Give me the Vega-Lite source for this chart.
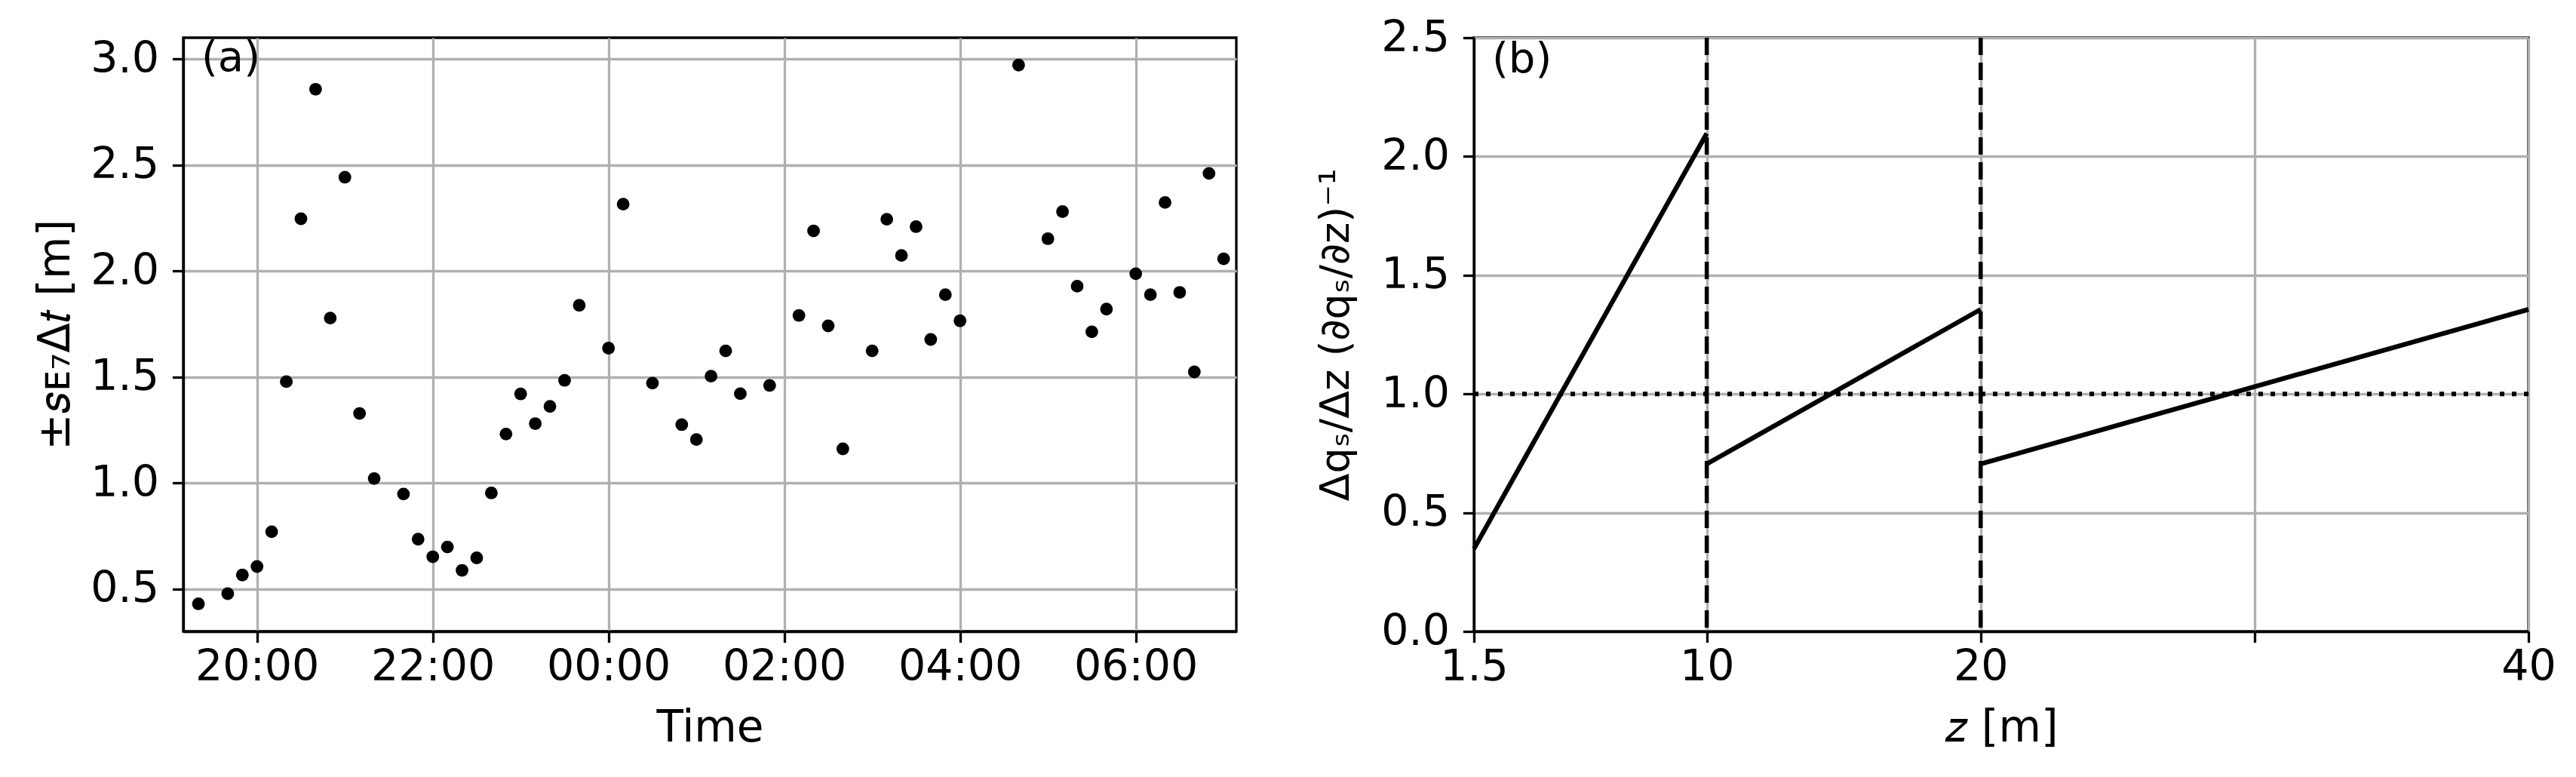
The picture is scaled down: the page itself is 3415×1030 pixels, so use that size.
{
  "$schema": "https://vega.github.io/schema/vega-lite/v6.json",
  "background": "white",
  "padding": {"left": 44, "top": 19, "right": 20, "bottom": 10},
  "bounds": "flush",
  "spacing": 315,
  "config": {
    "font": "DejaVu Sans",
    "view": {"stroke": "black", "strokeWidth": 3.3},
    "axis": {
      "domainColor": "black", "domainWidth": 3.3,
      "tickColor": "black", "tickWidth": 3.3, "tickSize": 14.6,
      "labelFont": "DejaVu Sans", "labelFontSize": 57, "labelColor": "black", "labelPadding": 18,
      "labelOverlap": false, "labelFlush": false,
      "titleFont": "DejaVu Sans", "titleFontSize": 58, "titleFontWeight": "normal", "titleColor": "black",
      "titleLimit": 2000,
      "gridColor": "#b0b0b0", "gridWidth": 3.3, "gridOpacity": 1
    },
    "axisX": {"labelPadding": 5, "titlePadding": 24}
  },
  "hconcat": [
    {
      "width": 1396,
      "height": 787,
      "layer": [
        {
          "data": {"values": [
            {"t": "2020-01-01T19:20:00", "s": 0.430},
            {"t": "2020-01-01T19:40:00", "s": 0.478},
            {"t": "2020-01-01T19:50:00", "s": 0.566},
            {"t": "2020-01-01T20:00:00", "s": 0.606},
            {"t": "2020-01-01T20:10:00", "s": 0.770},
            {"t": "2020-01-01T20:20:00", "s": 1.478},
            {"t": "2020-01-01T20:30:00", "s": 2.246},
            {"t": "2020-01-01T20:40:00", "s": 2.857},
            {"t": "2020-01-01T20:50:00", "s": 1.778},
            {"t": "2020-01-01T21:00:00", "s": 2.442},
            {"t": "2020-01-01T21:10:00", "s": 1.328},
            {"t": "2020-01-01T21:20:00", "s": 1.021},
            {"t": "2020-01-01T21:40:00", "s": 0.948},
            {"t": "2020-01-01T21:50:00", "s": 0.735},
            {"t": "2020-01-01T22:00:00", "s": 0.652},
            {"t": "2020-01-01T22:10:00", "s": 0.698},
            {"t": "2020-01-01T22:20:00", "s": 0.588},
            {"t": "2020-01-01T22:30:00", "s": 0.647},
            {"t": "2020-01-01T22:40:00", "s": 0.953},
            {"t": "2020-01-01T22:50:00", "s": 1.231},
            {"t": "2020-01-01T23:00:00", "s": 1.420},
            {"t": "2020-01-01T23:10:00", "s": 1.280},
            {"t": "2020-01-01T23:20:00", "s": 1.361},
            {"t": "2020-01-01T23:30:00", "s": 1.484},
            {"t": "2020-01-01T23:40:00", "s": 1.838},
            {"t": "2020-01-02T00:00:00", "s": 1.636},
            {"t": "2020-01-02T00:10:00", "s": 2.315},
            {"t": "2020-01-02T00:30:00", "s": 1.471},
            {"t": "2020-01-02T00:50:00", "s": 1.275},
            {"t": "2020-01-02T01:00:00", "s": 1.205},
            {"t": "2020-01-02T01:10:00", "s": 1.504},
            {"t": "2020-01-02T01:20:00", "s": 1.623},
            {"t": "2020-01-02T01:30:00", "s": 1.421},
            {"t": "2020-01-02T01:50:00", "s": 1.460},
            {"t": "2020-01-02T02:10:00", "s": 1.790},
            {"t": "2020-01-02T02:20:00", "s": 2.189},
            {"t": "2020-01-02T02:30:00", "s": 1.741},
            {"t": "2020-01-02T02:40:00", "s": 1.161},
            {"t": "2020-01-02T03:00:00", "s": 1.623},
            {"t": "2020-01-02T03:10:00", "s": 2.244},
            {"t": "2020-01-02T03:20:00", "s": 2.073},
            {"t": "2020-01-02T03:30:00", "s": 2.209},
            {"t": "2020-01-02T03:40:00", "s": 1.677},
            {"t": "2020-01-02T03:50:00", "s": 1.888},
            {"t": "2020-01-02T04:00:00", "s": 1.765},
            {"t": "2020-01-02T04:40:00", "s": 2.971},
            {"t": "2020-01-02T05:00:00", "s": 2.152},
            {"t": "2020-01-02T05:10:00", "s": 2.280},
            {"t": "2020-01-02T05:20:00", "s": 1.928},
            {"t": "2020-01-02T05:30:00", "s": 1.713},
            {"t": "2020-01-02T05:40:00", "s": 1.820},
            {"t": "2020-01-02T06:00:00", "s": 1.987},
            {"t": "2020-01-02T06:10:00", "s": 1.888},
            {"t": "2020-01-02T06:20:00", "s": 2.323},
            {"t": "2020-01-02T06:30:00", "s": 1.899},
            {"t": "2020-01-02T06:40:00", "s": 1.524},
            {"t": "2020-01-02T06:50:00", "s": 2.460},
            {"t": "2020-01-02T07:00:00", "s": 2.057}
          ]},
          "mark": {"type": "circle", "color": "black", "size": 283, "opacity": 1},
          "encoding": {
            "x": {
              "field": "t", "type": "temporal",
              "scale": {"nice": false, "domain": [
                {"year": 2020, "month": 1, "date": 1, "hours": 19, "minutes": 9, "seconds": 40},
                {"year": 2020, "month": 1, "date": 2, "hours": 7, "minutes": 8, "seconds": 40}
              ]},
              "axis": {
                "title": "Time", "format": "%H:%M",
                "values": [
                  {"year": 2020, "month": 1, "date": 1, "hours": 20},
                  {"year": 2020, "month": 1, "date": 1, "hours": 22},
                  {"year": 2020, "month": 1, "date": 2, "hours": 0},
                  {"year": 2020, "month": 1, "date": 2, "hours": 2},
                  {"year": 2020, "month": 1, "date": 2, "hours": 4},
                  {"year": 2020, "month": 1, "date": 2, "hours": 6}
                ]
              }
            },
            "y": {
              "field": "s", "type": "quantitative",
              "scale": {"domain": [0.3, 3.1], "nice": false, "zero": false},
              "axis": {"values": [0.5, 1, 1.5, 2, 2.5, 3], "format": ".1f", "title": "±𝑠ᴇ₇Δ𝑡 [m]", "titleFontSize": 58, "titlePadding": 16}
            }
          }
        },
        {
          "data": {"values": [{"label": "(a)"}]},
          "mark": {"type": "text", "fontSize": 56, "align": "left", "baseline": "top", "dx": 24, "dy": 0, "color": "black"},
          "encoding": {
            "x": {"datum": {"year": 2020, "month": 1, "date": 1, "hours": 19, "minutes": 9, "seconds": 40}, "type": "temporal"},
            "y": {"datum": 3.1, "type": "quantitative"},
            "text": {"field": "label"}
          }
        }
      ]
    },
    {
      "width": 1398,
      "height": 787,
      "layer": [
        {
          "data": {"values": [
            {"seg": 1, "z": 1.5, "v": 0.348},
            {"seg": 1, "z": 10, "v": 2.097},
            {"seg": 2, "z": 10, "v": 0.705},
            {"seg": 2, "z": 20, "v": 1.356},
            {"seg": 3, "z": 20, "v": 0.705},
            {"seg": 3, "z": 40, "v": 1.356}
          ]},
          "mark": {"type": "line", "color": "black", "strokeWidth": 6.25},
          "encoding": {
            "x": {
              "field": "z", "type": "quantitative",
              "scale": {"domain": [1.5, 40], "nice": false, "zero": false},
              "axis": {"values": [1.5, 10, 20, 30, 40], "format": "~g", "labelExpr": "datum.value == 30 ? '' : datum.label", "title": "𝑧 [m]"}
            },
            "y": {
              "field": "v", "type": "quantitative",
              "scale": {"domain": [0, 2.5], "nice": false},
              "axis": {"values": [0, 0.5, 1, 1.5, 2, 2.5], "format": ".1f", "title": "Δqₛ/Δz (∂qₛ/∂z)⁻¹", "titleFontSize": 54, "titlePadding": 32}
            },
            "detail": {"field": "seg"}
          }
        },
        {
          "data": {"values": [{"z": 10}, {"z": 20}]},
          "mark": {"type": "rule", "color": "black", "strokeWidth": 5.5, "strokeDash": [23, 10]},
          "encoding": {"x": {"field": "z", "type": "quantitative"}}
        },
        {
          "data": {"values": [{"v": 1}]},
          "mark": {"type": "rule", "color": "black", "strokeWidth": 6, "strokeDash": [6, 10]},
          "encoding": {"y": {"field": "v", "type": "quantitative"}}
        },
        {
          "data": {"values": [{"label": "(b)"}]},
          "mark": {"type": "text", "fontSize": 56, "align": "left", "baseline": "top", "dx": 24, "dy": 2, "color": "black"},
          "encoding": {
            "x": {"datum": 1.5, "type": "quantitative"},
            "y": {"datum": 2.5, "type": "quantitative"},
            "text": {"field": "label"}
          }
        }
      ]
    }
  ]
}
